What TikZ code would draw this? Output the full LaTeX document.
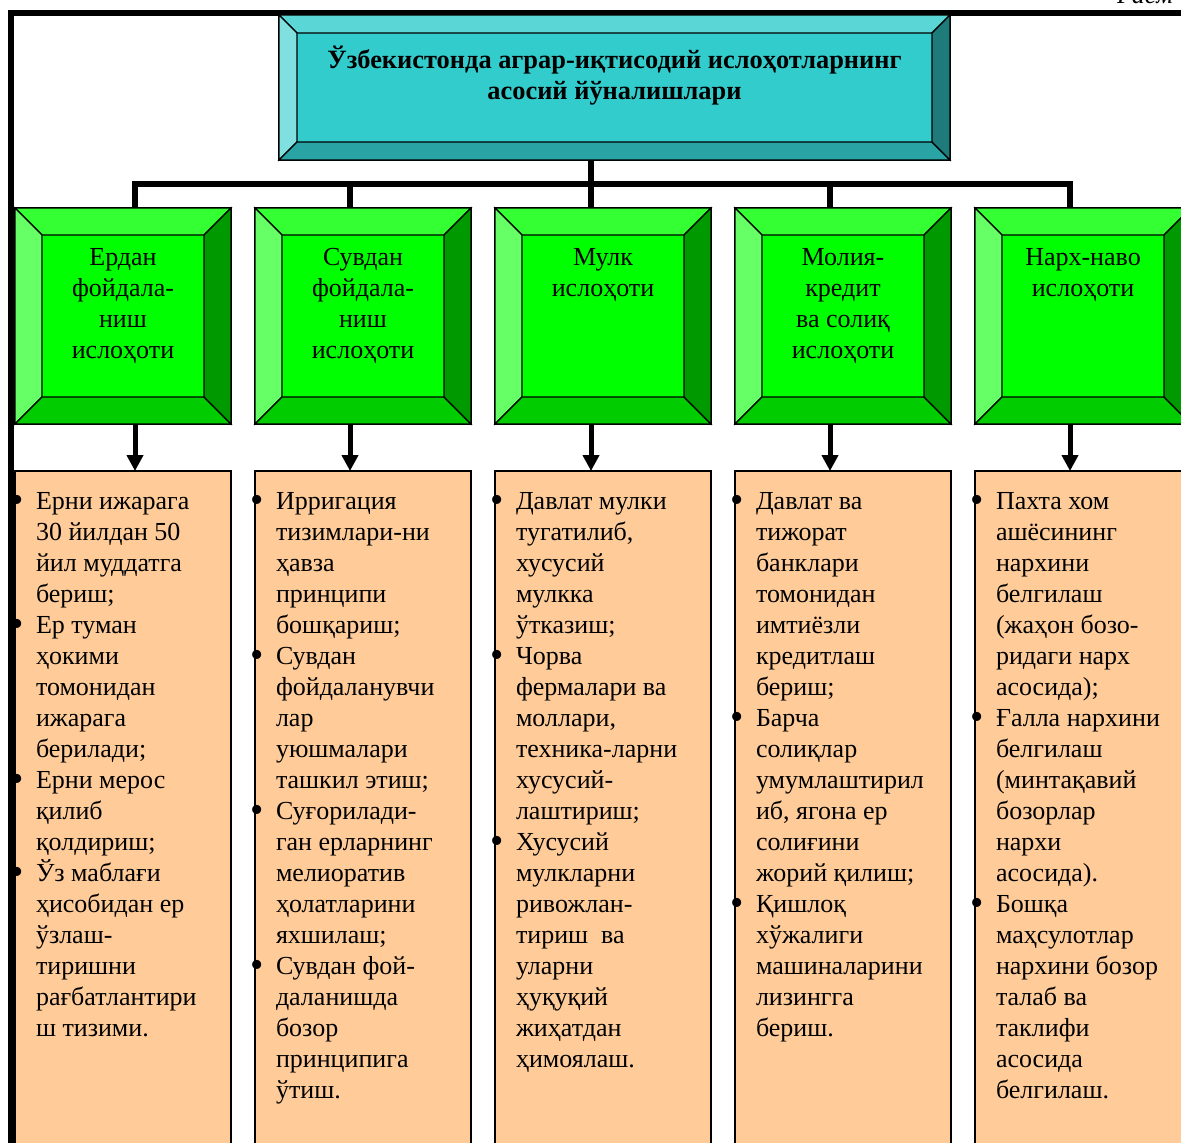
\documentclass[tikz,border=0pt]{standalone}
\usepackage{fontspec}
\setmainfont{Liberation Serif}
\usepackage{tikz}
\usetikzlibrary{positioning, arrows.meta}

\definecolor{ttop}{HTML}{5AD6D6}
\definecolor{tleft}{HTML}{80E0E0}
\definecolor{tmid}{HTML}{33CCCC}
\definecolor{tbot}{HTML}{29A3A3}
\definecolor{tright}{HTML}{1F7A7A}
\definecolor{gtop}{HTML}{33FF33}
\definecolor{gleft}{HTML}{66FF66}
\definecolor{gmid}{HTML}{00FF00}
\definecolor{gbot}{HTML}{00CC00}
\definecolor{gright}{HTML}{009900}
\definecolor{peach}{HTML}{FFCC99}

\newcommand{\boxfont}{\fontsize{13pt}{15.5pt}\selectfont}
\newcommand{\bul}{\leavevmode\llap{\raisebox{-1.6pt}{\fontsize{19pt}{0pt}\selectfont\textbullet}\hspace{6pt}}}
% four sloped edges round a node: node, depth, top, left, bottom, right
\newcommand{\bevel}[6]{%
  \filldraw[fill=#3] (#1.north west) -- (#1.north east)
    -- ([shift={(-#2,-#2)}]#1.north east) -- ([shift={(#2,-#2)}]#1.north west) -- cycle;
  \filldraw[fill=#4] (#1.north west) -- ([shift={(#2,-#2)}]#1.north west)
    -- ([shift={(#2,#2)}]#1.south west) -- (#1.south west) -- cycle;
  \filldraw[fill=#5] (#1.south west) -- ([shift={(#2,#2)}]#1.south west)
    -- ([shift={(-#2,#2)}]#1.south east) -- (#1.south east) -- cycle;
  \filldraw[fill=#6] (#1.south east) -- ([shift={(-#2,#2)}]#1.south east)
    -- ([shift={(-#2,-#2)}]#1.north east) -- (#1.north east) -- cycle;
}

\begin{document}
\begin{tikzpicture}[x=0.5pt, y=-0.5pt, line width=0.6pt,
    every node/.style={font=\boxfont, outer sep=0pt, inner sep=0pt},
    titlebox/.style={draw, fill=tmid, minimum width=335.5pt, minimum height=72.5pt},
    greenbox/.style={draw, fill=gmid, minimum width=108pt, minimum height=108pt},
    orangebox/.style={draw, fill=peach, minimum width=108pt, minimum height=340pt},
    headtxt/.style={align=center, execute at begin node=\rule{0pt}{12pt}},
    listtxt/.style={align=left, execute at begin node=\rule{0pt}{12pt}},
    bus/.style={line width=3pt, line cap=rect},
    arr/.style={line width=2.5pt, -{Triangle[length=8pt, width=8pt]}},
  ]
\useasboundingbox (0,0) rectangle (1181,1142);

% frame
\draw[line width=2.75pt] (11,1160) -- (11,13) -- (1190,13);
\node[font=\boxfont\itshape, anchor=base west] (rasm) at (1117,3) {Расм};

% boxes
\node[titlebox] (bosh) at (614.5,87.5) {};
\node[greenbox] (yer) at (123,316) {};
\node[greenbox, right=12pt of yer] (suv) {};
\node[greenbox, right=12pt of suv] (mulk) {};
\node[greenbox, right=12pt of mulk] (moliya) {};
\node[greenbox, right=12pt of moliya] (narx) {};
\foreach \n in {yer, suv, mulk, moliya, narx}
  \node[orangebox, below=23.5pt of \n] (\n-l) {};

% connectors
\coordinate (bar) at ([yshift=-12pt]bosh.south);
\draw[bus] ([xshift=6pt]yer.north) |- ([xshift=-6.5pt]narx.north |- bar)
  -- ([xshift=-6.5pt]narx.north);
\foreach \n/\d in {suv/-6.5pt, moliya/-6.5pt}
  \draw[bus] ([xshift=\d]\n.north) -- ([xshift=\d]\n.north |- bar);
\draw[bus] ([xshift=-6pt]mulk.north |- bosh.south) -- ([xshift=-6pt]mulk.north);

\bevel{bosh}{9pt}{ttop}{tleft}{tbot}{tright}
\foreach \n in {yer, suv, mulk, moliya, narx}
  {\bevel{\n}{13.5pt}{gtop}{gleft}{gbot}{gright}}
\foreach \n/\d in {yer/6pt, suv/-6.5pt, mulk/-6pt, moliya/-6.5pt, narx/-6.5pt}
  \draw[arr] ([xshift=\d]\n.south) -- ([xshift=\d]\n-l.north);

% headings
\node[headtxt, font=\fontsize{13.2pt}{15.5pt}\selectfont\bfseries, below=15.5pt of bosh.north] (bosh-t)
  {Ўзбекистонда аграр-иқтисодий ислоҳотларнинг\\асосий йўналишлари};
\node[headtxt, below=20pt of yer.north] (yer-t) {Ердан\\фойдала-\\ниш\\ислоҳоти};
\node[headtxt, below=20pt of suv.north] (suv-t) {Сувдан\\фойдала-\\ниш\\ислоҳоти};
\node[headtxt, below=20pt of mulk.north] (mulk-t) {Мулк\\ислоҳоти};
\node[headtxt, below=20pt of moliya.north] (moliya-t) {Молия-\\кредит\\ва солиқ\\ислоҳоти};
\node[headtxt, below=20pt of narx.north] (narx-t) {Нарх-наво\\ислоҳоти};

% lists
\node[listtxt, below right=10.5pt and 10.5pt of yer-l.north west] (yer-b)
  {\bul Ерни ижарага\\30 йилдан 50\\йил муддатга\\бериш;\\
   \bul Ер туман\\ҳокими\\томонидан\\ижарага\\берилади;\\
   \bul Ерни мерос\\қилиб\\қолдириш;\\
   \bul Ўз маблағи\\ҳисобидан ер\\ўзлаш-\\тиришни\\рағбатлантири\\ш тизими.};
\node[listtxt, below right=10.5pt and 10.5pt of suv-l.north west] (suv-b)
  {\bul Ирригация\\тизимлари-ни\\ҳавза\\принципи\\бошқариш;\\
   \bul Сувдан\\фойдаланувчи\\лар\\уюшмалари\\ташкил этиш;\\
   \bul Суғорилади-\\ган ерларнинг\\мелиоратив\\ҳолатларини\\яхшилаш;\\
   \bul Сувдан фой-\\даланишда\\бозор\\принципига\\ўтиш.};
\node[listtxt, below right=10.5pt and 10.5pt of mulk-l.north west] (mulk-b)
  {\bul Давлат мулки\\тугатилиб,\\хусусий\\мулкка\\ўтказиш;\\
   \bul Чорва\\фермалари ва\\моллари,\\техника-ларни\\хусусий-\\лаштириш;\\
   \bul Хусусий\\мулкларни\\ривожлан-\\тириш\ \ ва\\уларни\\ҳуқуқий\\жиҳатдан\\ҳимоялаш.};
\node[listtxt, below right=10.5pt and 10.5pt of moliya-l.north west] (moliya-b)
  {\bul Давлат ва\\тижорат\\банклари\\томонидан\\имтиёзли\\кредитлаш\\бериш;\\
   \bul Барча\\солиқлар\\умумлаштирил\\иб, ягона ер\\солиғини\\жорий қилиш;\\
   \bul Қишлоқ\\хўжалиги\\машиналарини\\лизингга\\бериш.};
\node[listtxt, below right=10.5pt and 10.5pt of narx-l.north west] (narx-b)
  {\bul Пахта хом\\ашёсининг\\нархини\\белгилаш\\(жаҳон бозо-\\ридаги нарх\\асосида);\\
   \bul Ғалла нархини\\белгилаш\\(минтақавий\\бозорлар\\нархи\\асосида).\\
   \bul Бошқа\\маҳсулотлар\\нархини бозор\\талаб ва\\таклифи\\асосида\\белгилаш.};
\end{tikzpicture}
\end{document}
